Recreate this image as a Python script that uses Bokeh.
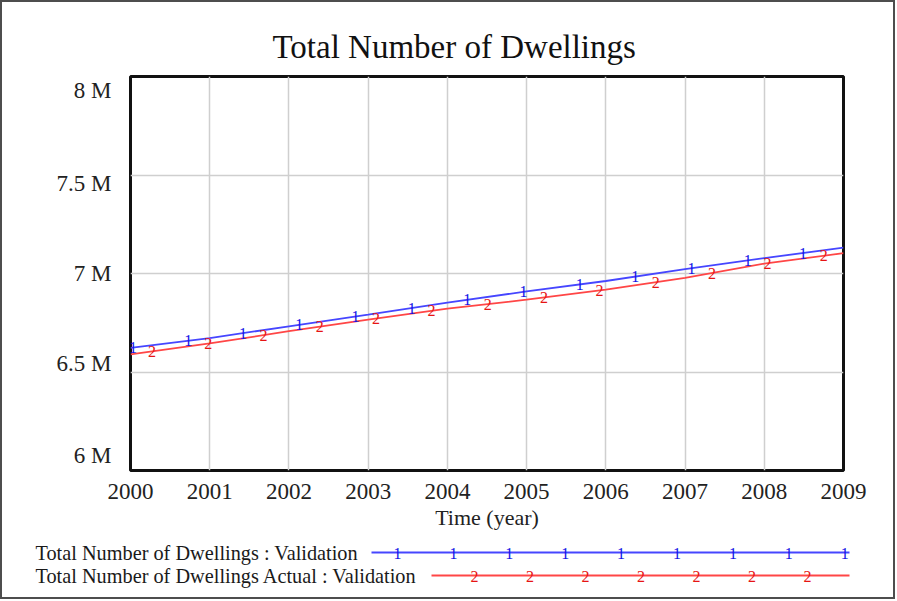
import numpy as np
from bokeh.plotting import figure
from bokeh.models import FixedTicker, Range1d, Column
from bokeh.embed import file_html
from bokeh.resources import INLINE
from bokeh.core.properties import value

# ---------------- data ----------------
years = [2000, 2001, 2002, 2003, 2004, 2005, 2006, 2007, 2008, 2009]
validation = [6.623e6, 6.672e6, 6.732e6, 6.791e6, 6.852e6, 6.909e6, 6.962e6, 7.022e6, 7.078e6, 7.131e6]
actual = [6.589e6, 6.645e6, 6.707e6, 6.766e6, 6.822e6, 6.867e6, 6.918e6, 6.978e6, 7.050e6, 7.103e6]

y_ticks = [6.0e6, 6.5e6, 7.0e6, 7.5e6, 8.0e6]
y_tick_labels = ["6 M", "6.5 M", "7 M", "7.5 M", "8 M"]
x_ticks = years

# positions (years) of the series number markers drawn along the lines
marker1_x = [2000.03, 2000.73, 2001.42, 2002.13, 2002.84, 2003.55, 2004.25,
             2004.96, 2005.67, 2006.37, 2007.08, 2007.79, 2008.49]
marker2_x = [2000.27, 2000.98, 2001.68, 2002.39, 2003.10, 2003.80, 2004.51,
             2005.22, 2005.92, 2006.63, 2007.34, 2008.04, 2008.75]

title_text = "Total Number of Dwellings"
x_label = "Time (year)"
legend_labels = ["Total Number of Dwellings : Validation",
                 "Total Number of Dwellings Actual : Validation"]
legend_marks = ["1", "2"]

# ---------------- style ----------------
FONT = "Liberation Serif"
BLUE_LINE, BLUE_TXT = "#4646ff", "#1414e6"
RED_LINE, RED_TXT = "#ff4646", "#e61414"
W = 891
H_MAIN = 535
H_LEG = 60
MB_L, MB_R, MB_T, MB_B = 128, 50, 74, 67

y0, y1 = y_ticks[0], y_ticks[-1]
frame_h = H_MAIN - MB_T - MB_B
# vensim-like pulling of y labels towards the centre (pixels, + = upwards)
shift_px = [15, 9, 0, -9, -14]
label_pos = [int(round(v + s * (y1 - y0) / frame_h)) for v, s in zip(y_ticks, shift_px)]

p = figure(width=W, height=H_MAIN, x_range=Range1d(years[0], years[-1]),
           y_range=Range1d(y0, y1), output_backend="svg", toolbar_location=None,
           min_border_left=MB_L, min_border_right=MB_R, min_border_top=MB_T,
           min_border_bottom=MB_B)

p.title.text = title_text
p.title.text_font = FONT
p.title.text_font_size = "33px"
p.title.text_font_style = "normal"
p.title.text_color = "#111111"
p.title.align = "left"
p.title.offset = 142
p.title.standoff = 23

p.outline_line_color = "#111111"
p.outline_line_width = 3
p.background_fill_color = "white"
p.border_fill_color = "white"

p.xgrid.ticker = FixedTicker(ticks=x_ticks)
p.ygrid.ticker = FixedTicker(ticks=y_ticks)
p.grid.grid_line_color = "#cfcfcf"
p.grid.grid_line_width = 1.5

p.xaxis.ticker = FixedTicker(ticks=x_ticks)
p.yaxis.ticker = FixedTicker(ticks=label_pos)
p.yaxis.major_label_overrides = {pos: lab for pos, lab in zip(label_pos, y_tick_labels)}
for ax in (p.xaxis[0], p.yaxis[0]):
    ax.axis_line_color = None
    ax.major_tick_line_color = None
    ax.minor_tick_line_color = None
    ax.major_label_text_font = FONT
    ax.major_label_text_font_size = "23px"
    ax.major_label_text_color = "#222222"
p.yaxis.major_label_standoff = 13
p.xaxis.major_label_standoff = 7
p.xaxis.axis_label = x_label
p.xaxis.axis_label_text_font = FONT
p.xaxis.axis_label_text_font_size = "22px"
p.xaxis.axis_label_text_font_style = "normal"
p.xaxis.axis_label_text_color = "#222222"
p.xaxis.axis_label_standoff = 3

p.line(years, validation, line_color=BLUE_LINE, line_width=1.8)
p.line(years, actual, line_color=RED_LINE, line_width=1.8)

m1_y = np.interp(marker1_x, years, validation)
m2_y = np.interp(marker2_x, years, actual)
p.text(x=marker1_x, y=m1_y, text=[legend_marks[0]] * len(marker1_x),
       text_font=value(FONT), text_font_size="16px", text_color=BLUE_TXT,
       text_align="center", text_baseline="alphabetic")
p.text(x=marker2_x, y=m2_y, text=[legend_marks[1]] * len(marker2_x),
       text_font=value(FONT), text_font_size="16px", text_color=RED_TXT,
       text_align="center", text_baseline="alphabetic")

# ---------------- legend panel ----------------
lf = figure(width=W, height=H_LEG, x_range=Range1d(0, W), y_range=Range1d(H_LEG, 0),
            x_axis_type=None, y_axis_type=None, output_backend="svg",
            toolbar_location=None, min_border=0)
for fig in (p, lf):
    try:
        fig.frame_align = False
    except Exception:
        pass
lf.grid.visible = False
lf.outline_line_color = None
lf.background_fill_color = "white"
lf.border_fill_color = "white"

rows_y = [15, 38]
line_start = [369, 429]
line_end = 847
mark_start = [395, 472]
mark_step = [55.9, 55.5]
mark_count = [9, 7]
cols = [(BLUE_LINE, BLUE_TXT), (RED_LINE, RED_TXT)]
for i in range(2):
    ly = rows_y[i]
    lf.text(x=[33], y=[ly], text=[legend_labels[i]], text_font=value(FONT),
            text_font_size="20.3px", text_color="#1a1a1a", text_align="left",
            text_baseline="middle")
    lf.line([line_start[i], line_end], [ly, ly], line_color=cols[i][0], line_width=1.8)
    mx = [mark_start[i] + k * mark_step[i] for k in range(mark_count[i])]
    lf.text(x=mx, y=[ly + 0.5] * len(mx), text=[legend_marks[i]] * len(mx),
            text_font=value(FONT), text_font_size="16px", text_color=cols[i][1],
            text_align="center", text_baseline="alphabetic")

layout = Column(children=[p, lf], styles={"border": "2px solid #4d4d4d"})

open("out.html", "w").write(file_html(layout, INLINE))
